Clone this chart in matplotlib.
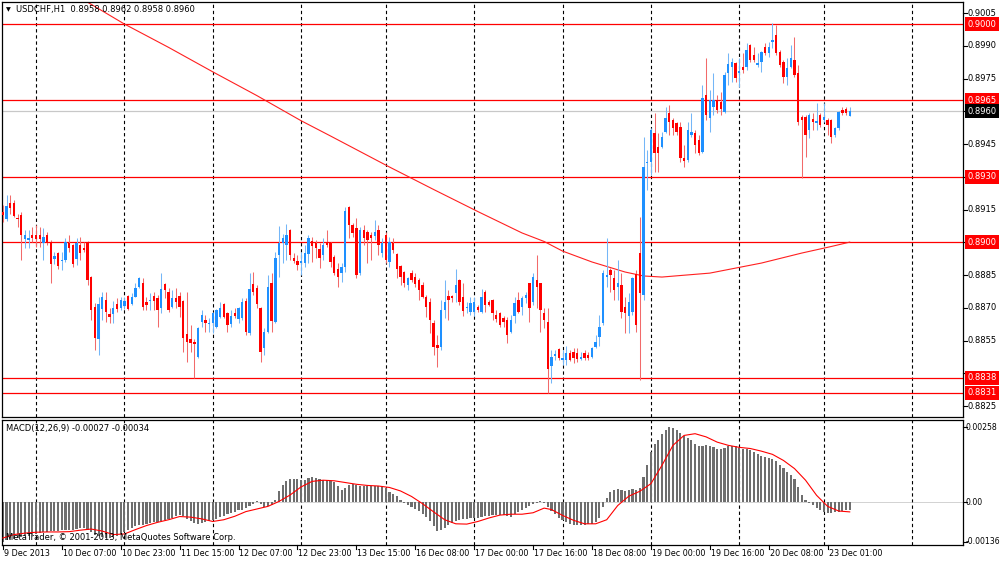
import numpy as np
import matplotlib
matplotlib.use("Agg")
import matplotlib.pyplot as plt

# ---------------- data (prices x 10^4) ----------------
opens_e4 = [
    8914.0, 8910.9, 8917.8, 8917.8, 8911.3, 8912.5, 8901.3, 8901.0, 8903.3, 8903.3,
    8903.3, 8899.8, 8903.3, 8900.3, 8892.2, 8895.2, 8891.3, 8891.9, 8899.5, 8898.7,
    8892.2, 8898.7, 8897.2, 8900.3, 8884.2, 8870.5, 8855.5, 8869.3, 8873.5, 8867.4,
    8867.4, 8871.7, 8869.7, 8870.8, 8875.4, 8871.7, 8875.1, 8879.7, 8881.2, 8872.8,
    8873.1, 8875.6, 8874.3, 8869.8, 8880.7, 8877.1, 8870.5, 8874.3, 8875.6, 8873.1,
    8857.9, 8855.7, 8854.5, 8847.6, 8863.7, 8864.4, 8862.4, 8862.9, 8861.4, 8866.0,
    8871.6, 8867.5, 8862.4, 8867.5, 8864.9, 8865.2, 8873.1, 8858.3, 8880.7, 8878.9,
    8869.8, 8851.4, 8859.1, 8881.2, 8863.7, 8894.2, 8899.5, 8898.8, 8905.6, 8892.7,
    8891.4, 8890.4, 8890.4, 8894.5, 8900.6, 8899.5, 8897.0, 8894.2, 8900.3, 8899.5,
    8893.4, 8887.8, 8885.8, 8888.8, 8916.3, 8907.9, 8906.7, 8885.8, 8905.6, 8904.6,
    8903.3, 8903.1, 8905.6, 8895.0, 8903.3, 8891.1, 8899.5, 8894.5, 8889.3, 8886.6,
    8880.4, 8885.8, 8884.3, 8882.7, 8880.4, 8875.1, 8872.8, 8862.9, 8852.9, 8852.2,
    8869.0, 8875.4, 8875.4, 8876.6, 8882.7, 8875.1, 8869.7, 8868.2, 8868.2, 8870.5,
    8868.2, 8877.4, 8872.8, 8873.6, 8866.7, 8867.8, 8865.2, 8864.4, 8859.1, 8866.2,
    8873.6, 8870.5, 8874.3, 8881.2, 8872.8, 8882.7, 8881.2, 8867.5, 8863.6, 8843.3,
    8847.9, 8851.0, 8846.1, 8846.1, 8849.4, 8849.9, 8849.5, 8846.4, 8849.2,
    8848.4, 8847.6, 8852.2, 8856.5, 8862.9, 8884.3, 8887.3, 8883.5, 8879.7, 8880.5,
    8870.5, 8866.3, 8868.0, 8885.5, 8894.9, 8876.0, 8936.5, 8937.0, 8949.9, 8943.8,
    8943.8, 8950.7, 8959.1, 8956.0, 8954.5, 8953.0, 8938.5, 8937.7, 8949.2, 8949.9,
    8946.9, 8941.5, 8967.5, 8956.8, 8962.1, 8965.2, 8964.1, 8959.8, 8977.4, 8980.5,
    8982.0, 8977.4, 8980.5, 8980.5, 8990.4, 8985.8, 8981.2, 8982.7, 8989.6, 8986.6,
    8991.9, 8995.0, 8987.3, 8982.7, 8975.9, 8980.5, 8983.5, 8977.4, 8957.6, 8957.6,
    8951.5, 8956.5, 8954.5, 8958.3, 8956.0, 8956.0, 8956.0, 8949.2, 8952.2, 8960.6,
    8961.1, 8958.0,
]
highs_e4 = [
    8917.1, 8921.6, 8921.6, 8919.3, 8913.2, 8914.0, 8905.6, 8905.6, 8907.1, 8907.9,
    8907.1, 8906.4, 8904.8, 8901.0, 8895.7, 8895.7, 8895.7, 8901.8, 8903.3, 8899.2,
    8901.8, 8902.5, 8900.3, 8900.8, 8884.8, 8872.0, 8875.1, 8877.4, 8877.4, 8869.7,
    8873.2, 8874.3, 8875.1, 8875.1, 8875.8, 8876.9, 8881.2, 8884.2, 8883.5, 8875.1,
    8876.6, 8877.4, 8875.9, 8885.8, 8881.2, 8878.9, 8878.2, 8878.9, 8877.4, 8873.6,
    8877.4, 8862.1, 8855.7, 8861.4, 8869.0, 8866.7, 8865.2, 8868.3, 8869.5, 8872.8,
    8872.0, 8868.3, 8869.0, 8869.8, 8870.2, 8874.3, 8874.3, 8885.8, 8886.6, 8880.4,
    8870.2, 8860.6, 8885.0, 8885.8, 8895.7, 8907.6, 8903.7, 8908.2, 8906.0, 8895.0,
    8894.2, 8895.7, 8898.8, 8903.3, 8902.6, 8901.1, 8899.5, 8901.8, 8905.6, 8900.3,
    8894.2, 8890.4, 8890.4, 8916.3, 8916.8, 8908.7, 8911.0, 8907.2, 8907.9, 8905.6,
    8904.9, 8910.2, 8907.9, 8901.8, 8904.9, 8902.6, 8901.8, 8895.0, 8889.6, 8887.0,
    8884.3, 8887.3, 8885.8, 8883.5, 8882.0, 8875.9, 8874.3, 8864.4, 8857.5, 8873.6,
    8882.7, 8878.2, 8875.9, 8887.6, 8883.2, 8881.2, 8872.8, 8874.8, 8875.1, 8871.3,
    8878.5, 8878.2, 8873.6, 8874.0, 8869.0, 8868.2, 8866.2, 8865.9, 8866.7, 8875.1,
    8877.4, 8875.4, 8877.4, 8881.6, 8885.8, 8894.2, 8881.6, 8869.7, 8869.7, 8850.6,
    8850.6, 8851.4, 8850.6, 8852.5, 8850.6, 8851.4, 8851.4, 8849.9, 8850.7,
    8849.9, 8852.2, 8857.5, 8866.7, 8887.3, 8901.8, 8888.1, 8887.3, 8891.9, 8885.8,
    8875.1, 8876.6, 8884.3, 8887.3, 8911.7, 8948.4, 8942.3, 8952.2, 8959.1, 8949.9,
    8950.7, 8962.1, 8962.9, 8956.8, 8955.3, 8955.3, 8944.6, 8955.3, 8959.1, 8951.4,
    8949.2, 8972.0, 8984.3, 8969.8, 8977.4, 8967.5, 8969.0, 8978.2, 8986.6, 8984.3,
    8982.7, 8984.3, 8986.6, 8991.1, 8990.8, 8989.6, 8986.6, 8987.6, 8991.1, 8991.9,
    9000.3, 8999.5, 8988.1, 8983.5, 8984.3, 8990.4, 8994.2, 8981.2, 8958.3, 8958.3,
    8959.1, 8959.1, 8963.7, 8959.1, 8963.7, 8956.8, 8956.4, 8953.0, 8960.2, 8962.1,
    8962.1, 8962.0,
]
lows_e4 = [
    8909.4, 8910.0, 8913.2, 8911.7, 8907.1, 8891.9, 8897.2, 8897.2, 8900.3, 8898.0,
    8898.0, 8891.9, 8898.7, 8881.2, 8890.3, 8887.6, 8887.3, 8891.1, 8895.7, 8888.8,
    8889.6, 8891.9, 8895.7, 8880.4, 8864.4, 8850.6, 8848.3, 8864.4, 8863.6, 8863.2,
    8863.2, 8868.2, 8869.0, 8869.3, 8869.0, 8871.2, 8874.8, 8878.9, 8869.0, 8869.0,
    8869.0, 8869.0, 8861.4, 8867.5, 8874.3, 8868.3, 8869.8, 8869.8, 8866.0, 8849.9,
    8845.3, 8849.9, 8837.7, 8846.9, 8861.4, 8859.1, 8859.1, 8858.3, 8860.9, 8865.2,
    8865.2, 8858.8, 8861.4, 8865.2, 8862.9, 8864.4, 8857.5, 8857.5, 8875.9, 8869.8,
    8845.3, 8848.4, 8858.3, 8859.1, 8862.9, 8884.3, 8890.4, 8891.9, 8891.9, 8890.4,
    8887.3, 8885.0, 8888.8, 8890.4, 8891.1, 8892.7, 8888.4, 8891.9, 8898.0, 8888.8,
    8885.0, 8879.7, 8882.0, 8886.6, 8901.8, 8902.6, 8883.5, 8885.0, 8898.8, 8890.4,
    8891.9, 8901.1, 8894.2, 8893.4, 8890.4, 8888.8, 8895.0, 8883.5, 8880.4, 8879.7,
    8878.2, 8881.7, 8879.7, 8873.6, 8874.3, 8865.9, 8858.3, 8848.4, 8843.0, 8850.6,
    8865.2, 8864.4, 8872.8, 8872.8, 8871.3, 8866.2, 8867.5, 8866.7, 8866.2, 8868.2,
    8867.5, 8868.2, 8870.8, 8864.4, 8863.6, 8861.4, 8861.1, 8853.7, 8858.3, 8862.9,
    8867.5, 8866.7, 8872.0, 8863.6, 8871.3, 8869.7, 8859.1, 8860.6, 8830.8, 8835.4,
    8846.1, 8846.1, 8843.8, 8843.8, 8845.5, 8844.6, 8845.3, 8846.1, 8846.1,
    8846.1, 8846.9, 8851.4, 8852.5, 8862.1, 8879.7, 8877.4, 8873.6, 8873.6, 8865.2,
    8858.3, 8858.3, 8866.7, 8859.1, 8837.0, 8873.6, 8924.0, 8930.8, 8932.4, 8932.4,
    8943.1, 8949.9, 8949.2, 8949.2, 8949.2, 8937.0, 8934.7, 8937.0, 8948.4, 8940.8,
    8940.0, 8941.0, 8956.0, 8950.7, 8958.3, 8959.1, 8958.3, 8959.1, 8972.0, 8973.6,
    8973.6, 8971.3, 8977.4, 8978.9, 8982.7, 8982.7, 8980.5, 8978.2, 8985.8, 8985.0,
    8988.8, 8985.8, 8980.5, 8972.8, 8972.0, 8979.7, 8975.9, 8953.7, 8929.3, 8939.2,
    8947.6, 8951.5, 8951.5, 8953.0, 8955.3, 8949.2, 8945.3, 8948.4, 8951.5, 8958.3,
    8958.3, 8958.0,
]
closes_e4 = [
    8912.5, 8916.6, 8915.5, 8912.0, 8910.5, 8903.3, 8903.3, 8901.8, 8902.2, 8901.3,
    8901.3, 8902.5, 8899.5, 8890.3, 8893.7, 8889.1, 8891.9, 8900.3, 8897.2, 8890.3,
    8899.5, 8895.2, 8896.4, 8882.7, 8869.0, 8856.4, 8871.7, 8874.8, 8868.2, 8865.9,
    8869.7, 8869.3, 8873.5, 8873.2, 8869.3, 8874.8, 8878.9, 8883.5, 8870.5, 8871.2,
    8873.6, 8873.1, 8869.0, 8878.5, 8878.2, 8869.0, 8874.6, 8872.8, 8870.5, 8856.3,
    8854.5, 8853.7, 8853.3, 8860.6, 8866.7, 8863.2, 8863.2, 8867.5, 8869.0, 8869.8,
    8866.0, 8862.1, 8866.4, 8866.4, 8869.8, 8872.5, 8859.1, 8878.5, 8877.4, 8871.6,
    8849.9, 8859.1, 8879.7, 8864.0, 8892.7, 8899.5, 8901.8, 8903.3, 8894.2, 8891.4,
    8889.6, 8891.6, 8895.0, 8901.8, 8898.5, 8897.3, 8892.7, 8898.8, 8898.8, 8891.1,
    8885.8, 8884.3, 8888.8, 8914.3, 8907.9, 8904.1, 8885.0, 8905.6, 8901.8, 8901.1,
    8902.1, 8904.6, 8898.8, 8899.5, 8891.9, 8900.3, 8896.5, 8887.8, 8884.3, 8881.2,
    8883.5, 8882.7, 8880.7, 8878.2, 8875.1, 8870.5, 8864.4, 8852.2, 8851.4, 8869.0,
    8872.8, 8873.6, 8874.3, 8880.4, 8872.8, 8868.7, 8870.5, 8872.3, 8872.8, 8869.0,
    8875.1, 8871.3, 8871.3, 8867.5, 8864.7, 8862.1, 8863.6, 8857.5, 8864.4, 8872.0,
    8868.2, 8874.3, 8875.9, 8869.7, 8884.3, 8879.7, 8869.0, 8864.4, 8841.8, 8847.6,
    8848.8, 8846.8, 8846.8, 8849.1, 8846.1, 8846.9, 8846.4, 8847.6, 8846.9,
    8846.9, 8851.4, 8854.5, 8861.4, 8885.8, 8885.0, 8885.0, 8878.2, 8881.2, 8868.2,
    8867.5, 8872.8, 8883.5, 8862.1, 8876.6, 8934.7, 8937.0, 8951.4, 8940.8, 8941.1,
    8948.4, 8956.8, 8955.3, 8952.2, 8950.7, 8938.5, 8937.4, 8951.4, 8950.7, 8944.6,
    8940.8, 8966.0, 8958.3, 8965.2, 8965.2, 8960.6, 8961.1, 8976.6, 8981.5, 8982.7,
    8975.1, 8978.5, 8978.9, 8988.1, 8983.5, 8983.5, 8982.0, 8987.3, 8986.6, 8989.6,
    8992.7, 8986.6, 8981.2, 8975.9, 8979.7, 8984.3, 8976.6, 8955.3, 8956.0, 8949.2,
    8958.3, 8955.3, 8955.6, 8953.7, 8957.6, 8953.7, 8948.4, 8952.2, 8959.8, 8959.1,
    8959.1, 8960.0,
]

# moving average (sampled along the line)
ma_bars = [22, 33, 45, 57, 69, 81, 89, 105, 117, 129, 141, 147, 152, 160, 169,
           174, 179, 184, 192, 206, 217, 225, 230]
ma_e4 = [9011.0, 9000.0, 8989.3, 8978.1, 8967.2, 8955.7, 8948.7, 8934.5, 8924.2,
         8914.1, 8904.3, 8900.4, 8896.0, 8891.0, 8886.4, 8884.6, 8884.1, 8884.8,
         8885.9, 8890.5, 8895.1, 8898.1, 8900.1]

# MACD main (histogram) in 1e-5
macd_e5 = [
    -136, -132, -130, -126, -124, -122, -118, -116, -112, -109,
    -107, -104, -102, -101, -100, -99, -97, -96, -95, -95,
    -93, -91, -89, -95, -104, -112, -118, -122, -124, -123,
    -120, -116, -109, -102, -95, -88, -84, -79, -78, -76,
    -72, -70, -69, -64, -61, -57, -55, -49, -46, -49,
    -58, -67, -72, -75, -72, -69, -67, -63, -58, -53,
    -47, -41, -38, -34, -29, -26, -22, -15, -8, 2,
    -6, -18, -15, -9, 6, 37, 60, 71, 78, 79,
    78, 75, 77, 83, 85, 84, 80, 77, 76, 73,
    68, 54, 42, 48, 60, 63, 58, 54, 56, 56,
    54, 54, 54, 52, 47, 36, 29, 19, 6, -3,
    -10, -17, -24, -32, -40, -52, -67, -84, -99, -95,
    -88, -79, -72, -65, -61, -58, -57, -56, -55, -54,
    -52, -49, -47, -45, -44, -44, -46, -49, -52, -42,
    -34, -29, -21, -14, -6, -2, 2, -3, -17, -31,
    -42, -54, -63, -69, -75, -78, -79, -79, -78,
    -77, -75, -69, -54, -17, 15, 34, 42, 46, 42,
    37, 40, 46, 40, 49, 86, 126, 172, 198, 214,
    233, 247, 258, 255, 247, 237, 227, 220, 212, 201,
    192, 194, 195, 193, 189, 184, 182, 187, 192, 194,
    192, 186, 181, 182, 178, 172, 165, 159, 154, 150,
    148, 140, 127, 116, 103, 94, 80, 52, 23, 6,
    -2, -10, -22, -29, -34, -37, -38, -36, -33, -31,
    -29, -27,
]
signal_bars = list(range(0, 150, 3)) + list(range(149, 231, 3))
signal_e5 = [
    -124, -112, -107, -104, -103, -103, -102, -97, -93, -100,
    -112, -110, -95, -81, -70, -61, -50, -52, -58, -67,
    -61, -49, -33, -24, -15, 2, 24, 52, 71, 75,
    73, 67, 61, 57, 55, 50, 38, 19, -6, -34,
    -61, -75, -76, -67, -55, -45, -42, -42, -37, -21,
    -26, -46, -63, -75, -75, -61, -12, 20, 37, 63,
    126, 195, 229, 235, 224, 206, 195, 188, 184, 175,
    164, 143, 115, 75, 23, -15, -31, -34,
]

levels = [0.9000, 0.8965, 0.8930, 0.8900, 0.8838, 0.8831]
bid = 0.8960
price_ticks = [0.9005, 0.8990, 0.8975, 0.8960, 0.8945, 0.8930, 0.8915, 0.8900,
               0.8885, 0.8870, 0.8855, 0.8840, 0.8825]
price_tick_shown = [0.9005, 0.8990, 0.8975, 0.8945, 0.8915, 0.8885, 0.8870,
                    0.8855, 0.8825]
macd_ticks = [0.00258, 0.0, -0.00136]
macd_tick_labels = ["0.00258", "0.00", "-0.00136"]
day_bars = [9, 33, 57, 81, 104, 128, 152, 176, 200, 223, 247]
date_bars = [0, 16, 32, 48, 64, 80, 96, 112, 128, 144, 160, 176, 192, 208, 224]
date_labels = ["9 Dec 2013", "10 Dec 07:00", "10 Dec 23:00", "11 Dec 15:00",
               "12 Dec 07:00", "12 Dec 23:00", "13 Dec 15:00", "16 Dec 08:00",
               "17 Dec 00:00", "17 Dec 16:00", "18 Dec 08:00", "19 Dec 00:00",
               "19 Dec 16:00", "20 Dec 08:00", "23 Dec 01:00"]

# ---------------- drawing ----------------
o = np.array(opens_e4) / 1e4
h = np.array(highs_e4) / 1e4
l = np.array(lows_e4) / 1e4
c = np.array(closes_e4) / 1e4
n = min(len(o), len(h), len(l), len(c))
o, h, l, c = o[:n], h[:n], l[:n], c[:n]
x = np.arange(n)

W, H = 1000, 562
fig = plt.figure(figsize=(10, 5.62), dpi=100)
fig.patch.set_facecolor("white")
FS = 6.0
plt.rcParams["font.family"] = ["DejaVu Sans"]


def px_axes(x0, y0, x1, y1):
    return fig.add_axes([x0 / W, 1 - y1 / H, (x1 - x0) / W, (y1 - y0) / H])


ax = px_axes(2, 2, 963, 417)
axm = px_axes(2, 420, 963, 545)
S, X0 = 3.682, 2.86
xl = ((2 - X0) / S, (963 - X0) / S)
for a in (ax, axm):
    a.set_xlim(*xl)
    a.set_xticks([])
    a.set_yticks([])
    for sp in a.spines.values():
        sp.set_color("black")
        sp.set_linewidth(0.9)
    for d in day_bars:
        a.axvline(d, color="black", lw=0.8, ls=(0, (3.0, 2.5)), zorder=1)

ax.set_ylim(0.88200, 0.901008)
axm.set_ylim(-0.001479, 0.002821)

# levels and bid line
ax.axhline(bid, color="#c8c8c8", lw=0.9, zorder=1.5)
for lv in levels:
    ax.axhline(lv, color="#ff0000", lw=0.9, zorder=1.6)

# moving average
ax.plot(ma_bars, np.array(ma_e4) / 1e4, color="#ff2020", lw=0.8, zorder=2)

# candles
up = c >= o
lo = np.minimum(o, c)
bh = np.maximum(np.abs(c - o), 0.000045)
ax.vlines(x[up], l[up], h[up], color="#74b6f7", lw=0.75, zorder=3)
ax.vlines(x[~up], l[~up], h[~up], color="#f26a6a", lw=0.75, zorder=3)
ax.bar(x[up], bh[up], bottom=lo[up], width=0.64, color="#1e90ff", lw=0, zorder=4)
ax.bar(x[~up], bh[~up], bottom=lo[~up], width=0.64, color="#ff0000", lw=0, zorder=4)

# price axis
ytr = ax.get_yaxis_transform()
for p in price_ticks:
    ax.plot([1.0, 1.004], [p, p], color="black", lw=0.8, transform=ytr, clip_on=False)
for p in price_tick_shown:
    ax.text(1.0045, p, f"{p:.4f}", transform=ytr, ha="left", va="center",
            fontsize=FS, color="black")
for lv in levels:
    ax.text(1.0045, lv, f"{lv:.4f}", transform=ytr, ha="left", va="center",
            fontsize=FS, color="white",
            bbox=dict(boxstyle="square,pad=0.3", fc="#ff0000", ec="none"))
ax.text(1.0045, bid, f"{bid:.4f}", transform=ytr, ha="left", va="center",
        fontsize=FS, color="white",
        bbox=dict(boxstyle="square,pad=0.3", fc="black", ec="none"))

ax.text(0.004, 0.981, "\u25BC", transform=ax.transAxes, ha="left", va="center",
        fontsize=4.5, color="black")
ax.text(0.015, 0.981, "USDCHF,H1  0.8958 0.8962 0.8958 0.8960",
        transform=ax.transAxes, ha="left", va="center", fontsize=FS, color="black")

# MACD
axm.axhline(0, color="#b0b0b0", lw=0.4, zorder=1)
axm.bar(np.arange(len(macd_e5)), np.array(macd_e5) / 1e5, width=0.58,
        color="#6e6e6e", lw=0, zorder=2)
axm.plot(signal_bars, np.array(signal_e5) / 1e5, color="#ff0000", lw=0.8, zorder=3)
mtr = axm.get_yaxis_transform()
for v, t in zip(macd_ticks, macd_tick_labels):
    axm.plot([1.0, 1.004], [v, v], color="black", lw=0.8, transform=mtr, clip_on=False)
    axm.text(1.003, v, t, transform=mtr, ha="left", va="center", fontsize=5.6)
axm.text(0.004, 0.928, "MACD(12,26,9) -0.00027 -0.00034", transform=axm.transAxes,
         ha="left", va="center", fontsize=FS)
axm.text(0.004, 0.06, "MetaTrader, \u00A9 2001-2013, MetaQuotes Software Corp.",
         transform=axm.transAxes, ha="left", va="center", fontsize=FS, zorder=5)

# date axis
xtr = axm.get_xaxis_transform()
for b, t in zip(date_bars, date_labels):
    axm.plot([b, b], [0, -0.035], color="black", lw=0.8, transform=xtr, clip_on=False)
    axm.text(b + 0.25, -0.066, t, transform=xtr, ha="left", va="center", fontsize=5.8)

fig.savefig("out.png", dpi=100, facecolor="white")
